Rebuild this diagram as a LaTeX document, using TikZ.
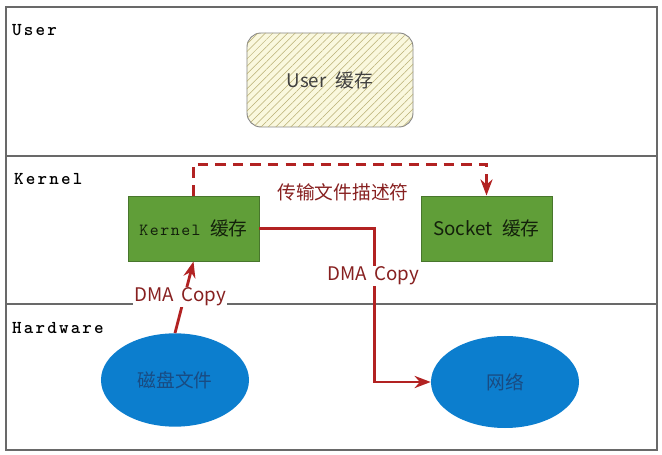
\documentclass[tikz,border=0pt]{standalone}
\usepackage{fontspec}
\usepackage{tikz}
\setmainfont{Noto Sans CJK SC}
\newfontfamily\monofont[LetterSpace=9]{lmmono10-regular.otf}
\newfontfamily\lanefont[LetterSpace=12]{lmmonolt10-bold.otf}
\usetikzlibrary{arrows.meta, patterns.meta, shapes.geometric}
\definecolor{frame}{RGB}{105,105,105}
\definecolor{userfill}{RGB}{250,248,222}
\definecolor{hatch}{RGB}{185,175,115}
\definecolor{green}{RGB}{96,158,56}
\definecolor{greenline}{RGB}{72,118,44}
\definecolor{blue}{RGB}{12,126,206}
\definecolor{bluetext}{RGB}{25,75,130}
\definecolor{red}{RGB}{178,34,34}
\definecolor{redtext}{RGB}{135,32,32}

\tikzset{
  lane/.style={anchor=west, inner sep=0pt, font=\lanefont\fontsize{15.5}{17}\selectfont},
  buffer/.style={draw=greenline, fill=green, line width=0.8pt, minimum width=3.93cm, minimum height=1.95cm, text=black!80!green},
  device/.style={ellipse, fill=blue, minimum width=4.44cm, minimum height=2.8cm, text=bluetext},
  copyline/.style={red, line width=2.4pt},
  copylabel/.style={fill=white, inner sep=1pt, text=redtext}
}

\begin{document}
\begin{tikzpicture}[>=Stealth, x=0.03cm, y=-0.03cm, font=\fontsize{16}{18}\selectfont]
    \useasboundingbox (0,0) rectangle (662,455);

    % lanes
    \draw[frame, line width=1.6pt] (6,7) rectangle (657,450);
    \draw[frame, line width=1.6pt] (6,156) -- (657,156);
    \draw[frame, line width=1.6pt] (6,304) -- (657,304);
    \node[lane] (userlane) at (12,30) {User};
    \node[lane] (kernellane) at (14,179) {Kernel};
    \node[lane] (hardlane) at (12,328) {Hardware};

    % buffers
    \node[draw=frame!80, fill=userfill, rounded corners=12pt, line width=0.8pt,
          minimum width=4.98cm, minimum height=2.82cm, text=black!75,
          postaction={pattern={Lines[angle=45, distance=4.5pt, line width=0.45pt]}, pattern color=hatch}]
          (ubuf) at (330,80) {};
    \node[text=black!75] at (ubuf) {User\hspace{0.5em}缓存};
    \node[buffer] (kbuf) at (193.5,228.5) {{\monofont\fontsize{14.5}{16}\selectfont Kernel}\hspace{0.5em}缓存};
    \node[buffer] (sbuf) at (486.5,228.5) {Socket\hspace{0.5em}缓存};

    % hardware
    \node[device] (disk) at (175,380) {磁盘文件};
    \node[device, minimum height=2.76cm] (net) at (505,382) {网络};

    % copies
    \draw[copyline, dashed, dash pattern=on 9pt off 6pt, ->] (kbuf.north) -- ++(0,-31) -| (sbuf.north);
    \node[text=redtext] (desc) at (343,192) {传输文件描述符};
    \draw[copyline, ->] (kbuf.east) -- ++(115,0) |- (net.west);
    \node[copylabel] (netcopy) at (373,276) {DMA\hspace{0.4em}Copy};
    \draw[copyline, ->] (disk.north) -- (kbuf.south);
    \node[copylabel] (diskcopy) at (180,297) {DMA\hspace{0.4em}Copy};

\end{tikzpicture}
\end{document}
